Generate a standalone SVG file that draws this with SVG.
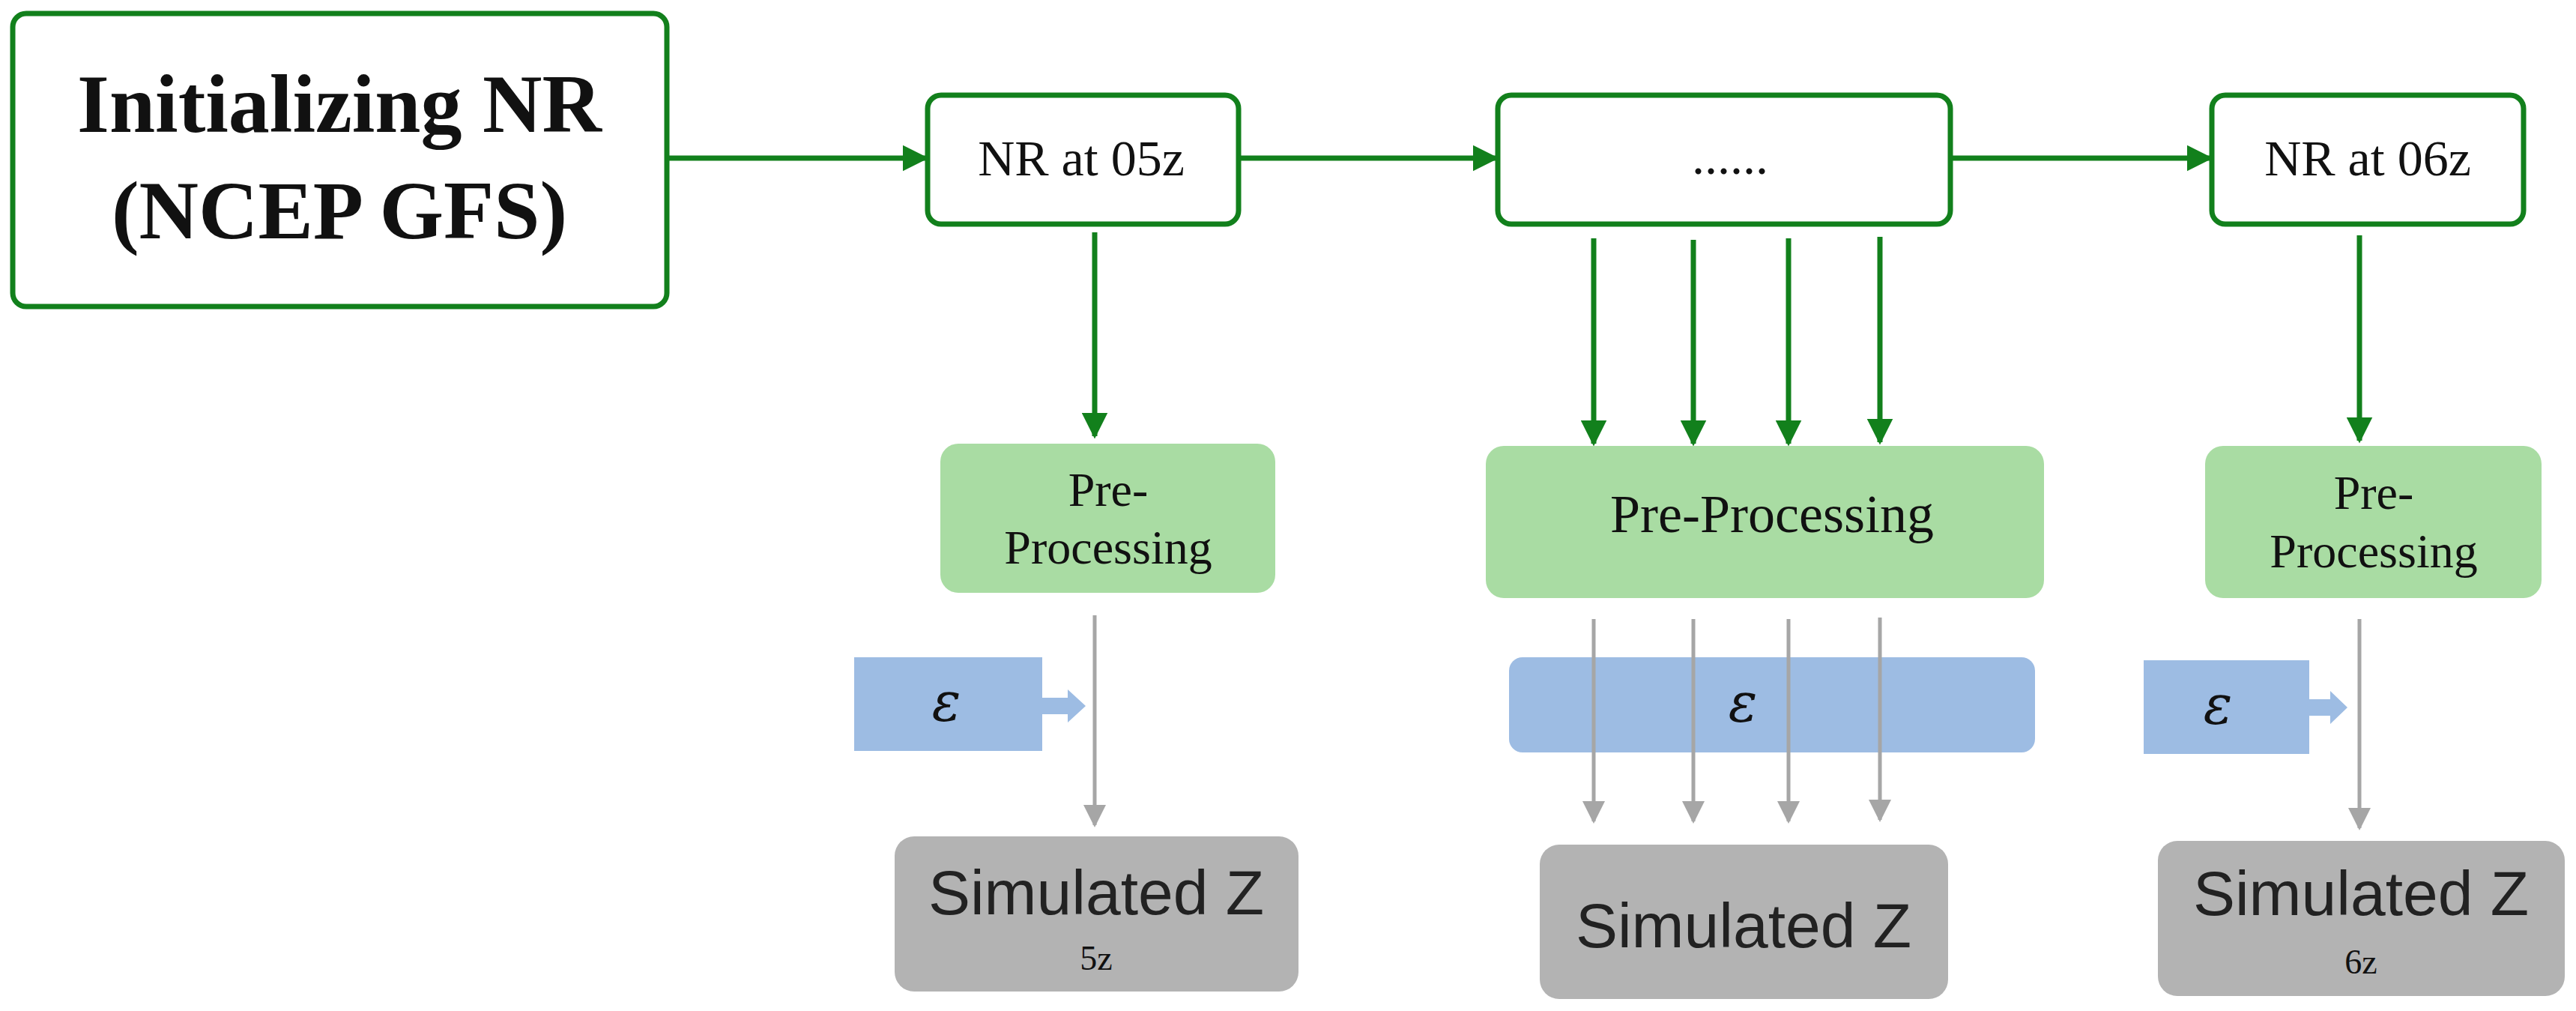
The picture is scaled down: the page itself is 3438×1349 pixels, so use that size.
<svg xmlns="http://www.w3.org/2000/svg" width="3438" height="1349" viewBox="0 0 3438 1349">
<defs>
<style>
.gb{fill:#fff;stroke:#12801c;stroke-width:7}
.pp{fill:#a9dca3}
.ep{fill:#9dbce3}
.sz{fill:#b3b3b3}
.gl{stroke:#12801c;stroke-width:7;fill:none}
.yl{stroke:#a6a6a6;stroke-width:5;fill:none}
.tm{font-family:"Liberation Serif",serif;fill:#111;text-anchor:middle}
.ss{font-family:"Liberation Sans",sans-serif;fill:#222;text-anchor:middle}
.eps{font-family:"DejaVu Serif",serif;font-style:italic;fill:#111;text-anchor:middle;font-size:72px}
</style>
<marker id="ga" viewBox="0 0 10 10" refX="9" refY="5" markerWidth="5" markerHeight="5" orient="auto" markerUnits="strokeWidth"><path d="M0,0L10,5L0,10z" fill="#12801c"/></marker>
<marker id="ya" viewBox="0 0 10 10" refX="9" refY="5" markerWidth="6" markerHeight="6" orient="auto" markerUnits="strokeWidth"><path d="M0,0L10,5L0,10z" fill="#a6a6a6"/></marker>
</defs>
<g id="connectors">
<line class="gl" x1="890" y1="211" x2="1236" y2="211" marker-end="url(#ga)"/>
<line class="gl" x1="1653" y1="211" x2="1997" y2="211" marker-end="url(#ga)"/>
<line class="gl" x1="2603" y1="211" x2="2950" y2="211" marker-end="url(#ga)"/>
<line class="gl" x1="1461" y1="310" x2="1461" y2="582" marker-end="url(#ga)"/>
<line class="gl" x1="2127" y1="318" x2="2127" y2="592" marker-end="url(#ga)"/>
<line class="gl" x1="2260" y1="320" x2="2260" y2="592" marker-end="url(#ga)"/>
<line class="gl" x1="2387" y1="318" x2="2387" y2="592" marker-end="url(#ga)"/>
<line class="gl" x1="2509" y1="316" x2="2509" y2="590" marker-end="url(#ga)"/>
<line class="gl" x1="3149" y1="314" x2="3149" y2="588" marker-end="url(#ga)"/>
</g>
<g id="init"><rect class="gb" x="17" y="18" width="873" height="391" rx="18"/>
<text class="tm" x="453" y="176" font-size="110" font-weight="bold">Initializing NR</text>
<text class="tm" x="453" y="318" font-size="110" font-weight="bold">(NCEP GFS)</text></g>
<g id="nr05"><rect class="gb" x="1238" y="127" width="415" height="172" rx="18"/>
<text class="tm" x="1443" y="234" font-size="68">NR at 05z</text></g>
<g id="dots"><rect class="gb" x="1999" y="127" width="604" height="172" rx="18"/>
<text class="tm" x="2309" y="232" font-size="68">......</text></g>
<g id="nr06"><rect class="gb" x="2952" y="127" width="416" height="172" rx="18"/>
<text class="tm" x="3160" y="234" font-size="68">NR at 06z</text></g>
<g id="pp1"><rect class="pp" x="1255" y="592" width="447" height="199" rx="24"/>
<text class="tm" x="1479" y="675" font-size="64">Pre-</text>
<text class="tm" x="1479" y="752" font-size="64">Processing</text></g>
<g id="pp2"><rect class="pp" x="1983" y="595" width="745" height="203" rx="24"/>
<text class="tm" x="2365" y="710" font-size="72">Pre-Processing</text></g>
<g id="pp3"><rect class="pp" x="2943" y="595" width="449" height="203" rx="24"/>
<text class="tm" x="3168" y="679" font-size="64">Pre-</text>
<text class="tm" x="3168" y="757" font-size="64">Processing</text></g>
<g id="eps1"><rect class="ep" x="1140" y="877" width="251" height="125"/>
<polygon class="ep" points="1391,931 1425,931 1425,920 1449,942 1425,964 1425,953 1391,953"/>
<text class="eps" x="1263" y="962">ε</text></g>
<g id="eps2"><rect class="ep" x="2014" y="877" width="702" height="127" rx="18"/>
<text class="eps" x="2326" y="963">ε</text></g>
<g id="eps3"><rect class="ep" x="2861" y="881" width="221" height="125"/>
<polygon class="ep" points="3082,933 3110,933 3110,922 3133,944 3110,966 3110,955 3082,955"/>
<text class="eps" x="2960" y="966">ε</text></g>
<g id="grey">
<line class="yl" x1="1461" y1="821" x2="1461" y2="1101" marker-end="url(#ya)"/>
<line class="yl" x1="2127" y1="826" x2="2127" y2="1096" marker-end="url(#ya)"/>
<line class="yl" x1="2260" y1="826" x2="2260" y2="1096" marker-end="url(#ya)"/>
<line class="yl" x1="2387" y1="826" x2="2387" y2="1096" marker-end="url(#ya)"/>
<line class="yl" x1="2509" y1="824" x2="2509" y2="1094" marker-end="url(#ya)"/>
<line class="yl" x1="3149" y1="826" x2="3149" y2="1105" marker-end="url(#ya)"/>
</g>
<g id="sz1"><rect class="sz" x="1194" y="1116" width="539" height="207" rx="26"/>
<text class="ss" x="1463" y="1220" font-size="84">Simulated Z</text>
<text class="tm" x="1463" y="1294" font-size="46">5z</text></g>
<g id="sz2"><rect class="sz" x="2055" y="1127" width="545" height="206" rx="26"/>
<text class="ss" x="2327" y="1264" font-size="84">Simulated Z</text></g>
<g id="sz3"><rect class="sz" x="2880" y="1122" width="543" height="207" rx="26"/>
<text class="ss" x="3151" y="1221" font-size="84">Simulated Z</text>
<text class="tm" x="3151" y="1299" font-size="46">6z</text></g>
</svg>
